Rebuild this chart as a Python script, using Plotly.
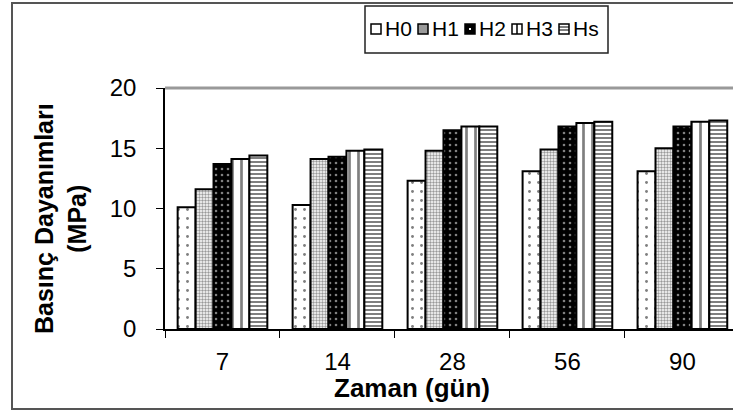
import plotly.graph_objects as go

categories = ["7", "14", "28", "56", "90"]
series_names = ["H0", "H1", "H2", "H3", "Hs"]
H0 = [10.1, 10.3, 12.3, 13.1, 13.1]
H1 = [11.6, 14.1, 14.8, 14.9, 15.0]
H2 = [13.7, 14.3, 16.5, 16.8, 16.8]
H3 = [14.1, 14.8, 16.8, 17.1, 17.2]
Hs = [14.4, 14.9, 16.8, 17.2, 17.3]
values = [H0, H1, H2, H3, Hs]

styles = [
    dict(color="white", pattern=dict(shape=".", fgcolor="black", bgcolor="white", size=9, solidity=0.08, fillmode="overlay")),
    dict(color="white", pattern=dict(shape=".", fgcolor="#333", bgcolor="white", size=3, solidity=0.5, fillmode="overlay")),
    dict(color="black", pattern=dict(shape=".", fgcolor="white", bgcolor="black", size=6, solidity=0.15, fillmode="overlay")),
    dict(color="white", pattern=dict(shape="|", fgcolor="black", bgcolor="white", size=9, solidity=0.3, fillmode="overlay")),
    dict(color="white", pattern=dict(shape="-", fgcolor="black", bgcolor="white", size=4, solidity=0.5, fillmode="overlay")),
]

fig = go.Figure()
for name, vals, st in zip(series_names, values, styles):
    fig.add_trace(go.Bar(
        x=categories, y=vals, name=name,
        marker=dict(color=st["color"], pattern=st["pattern"], line=dict(color="black", width=2)),
    ))

FONT = "Liberation Sans, Arial, sans-serif"
# pixel helpers for decorations (plot area: x 165..733, y 88..329)
def px(x):
    return (x - 165) / 568
def py(y):
    return (329 - y) / 241

shapes = [
    dict(type="line", xref="paper", yref="paper", x0=0, x1=1.05, y0=1, y1=1,
         line=dict(color="#999999", width=3)),
    dict(type="rect", xref="paper", yref="paper", x0=px(12), x1=1.05,
         y0=py(409), y1=py(3), line=dict(color="#555555", width=2)),
    # legend box
    dict(type="rect", xref="paper", yref="paper", x0=px(365), x1=px(608),
         y0=py(53), y1=py(6), line=dict(color="#222222", width=1.5), fillcolor="white"),
]
annotations = [
    dict(text="<b>Zaman (gün)</b>", xref="paper", yref="paper", x=px(412), y=py(388),
         xanchor="center", yanchor="middle", showarrow=False, font=dict(size=26, family=FONT)),
    dict(text="<b>Basınç Dayanımları<br>(MPa)</b>", xref="paper", yref="paper",
         x=px(60), y=py(219), xanchor="center", yanchor="middle", showarrow=False,
         textangle=-90, font=dict(size=25, family=FONT)),
]

# manual legend
swatch_fill = ["white", "#9a9a9a", "black", "white", "white"]
leg_x0 = 371
leg_step = 47
sw = 10
ly = 29
for i, name in enumerate(series_names):
    sx = leg_x0 + i * leg_step
    shapes.append(dict(type="rect", xref="paper", yref="paper", x0=px(sx), x1=px(sx + sw),
                       y0=py(ly + sw / 2), y1=py(ly - sw / 2),
                       line=dict(color="black", width=1.5), fillcolor=swatch_fill[i]))
    if name == "H3":
        shapes.append(dict(type="line", xref="paper", yref="paper", x0=px(sx + 5), x1=px(sx + 5),
                           y0=py(ly + sw / 2), y1=py(ly - sw / 2), line=dict(color="black", width=1.5)))
    if name == "Hs":
        for dy in (-2, 1):
            shapes.append(dict(type="line", xref="paper", yref="paper", x0=px(sx), x1=px(sx + sw),
                               y0=py(ly + dy), y1=py(ly + dy), line=dict(color="black", width=1)))
    if name == "H2":
        shapes.append(dict(type="rect", xref="paper", yref="paper", x0=px(sx + 4), x1=px(sx + 6),
                           y0=py(ly + 1), y1=py(ly - 1), line=dict(width=0), fillcolor="white"))
    annotations.append(dict(text=name, xref="paper", yref="paper", x=px(sx + sw + 2), y=py(ly),
                            xanchor="left", yanchor="middle", showarrow=False,
                            font=dict(size=21, family=FONT)))

fig.update_layout(
    width=733, height=412,
    margin=dict(l=165, r=0, t=88, b=83),
    paper_bgcolor="white", plot_bgcolor="white",
    barmode="group", bargap=0.22, bargroupgap=0,
    font=dict(family=FONT, color="black", size=22),
    showlegend=False,
    xaxis=dict(type="category", range=[-0.5, 4.44], tickson="boundaries", ticks="outside",
               ticklen=7, tickcolor="black", showline=True, linecolor="black", linewidth=1.5,
               showgrid=False, tickfont=dict(size=24), ticklabelstandoff=10),
    yaxis=dict(range=[0, 20], tickvals=[0, 5, 10, 15, 20], ticks="outside", ticklen=7,
               tickcolor="black", showline=True, linecolor="black", linewidth=1.5,
               showgrid=False, zeroline=False, tickfont=dict(size=24), ticklabelstandoff=15),
    shapes=shapes,
    annotations=annotations,
)

fig.write_html("out.html")
